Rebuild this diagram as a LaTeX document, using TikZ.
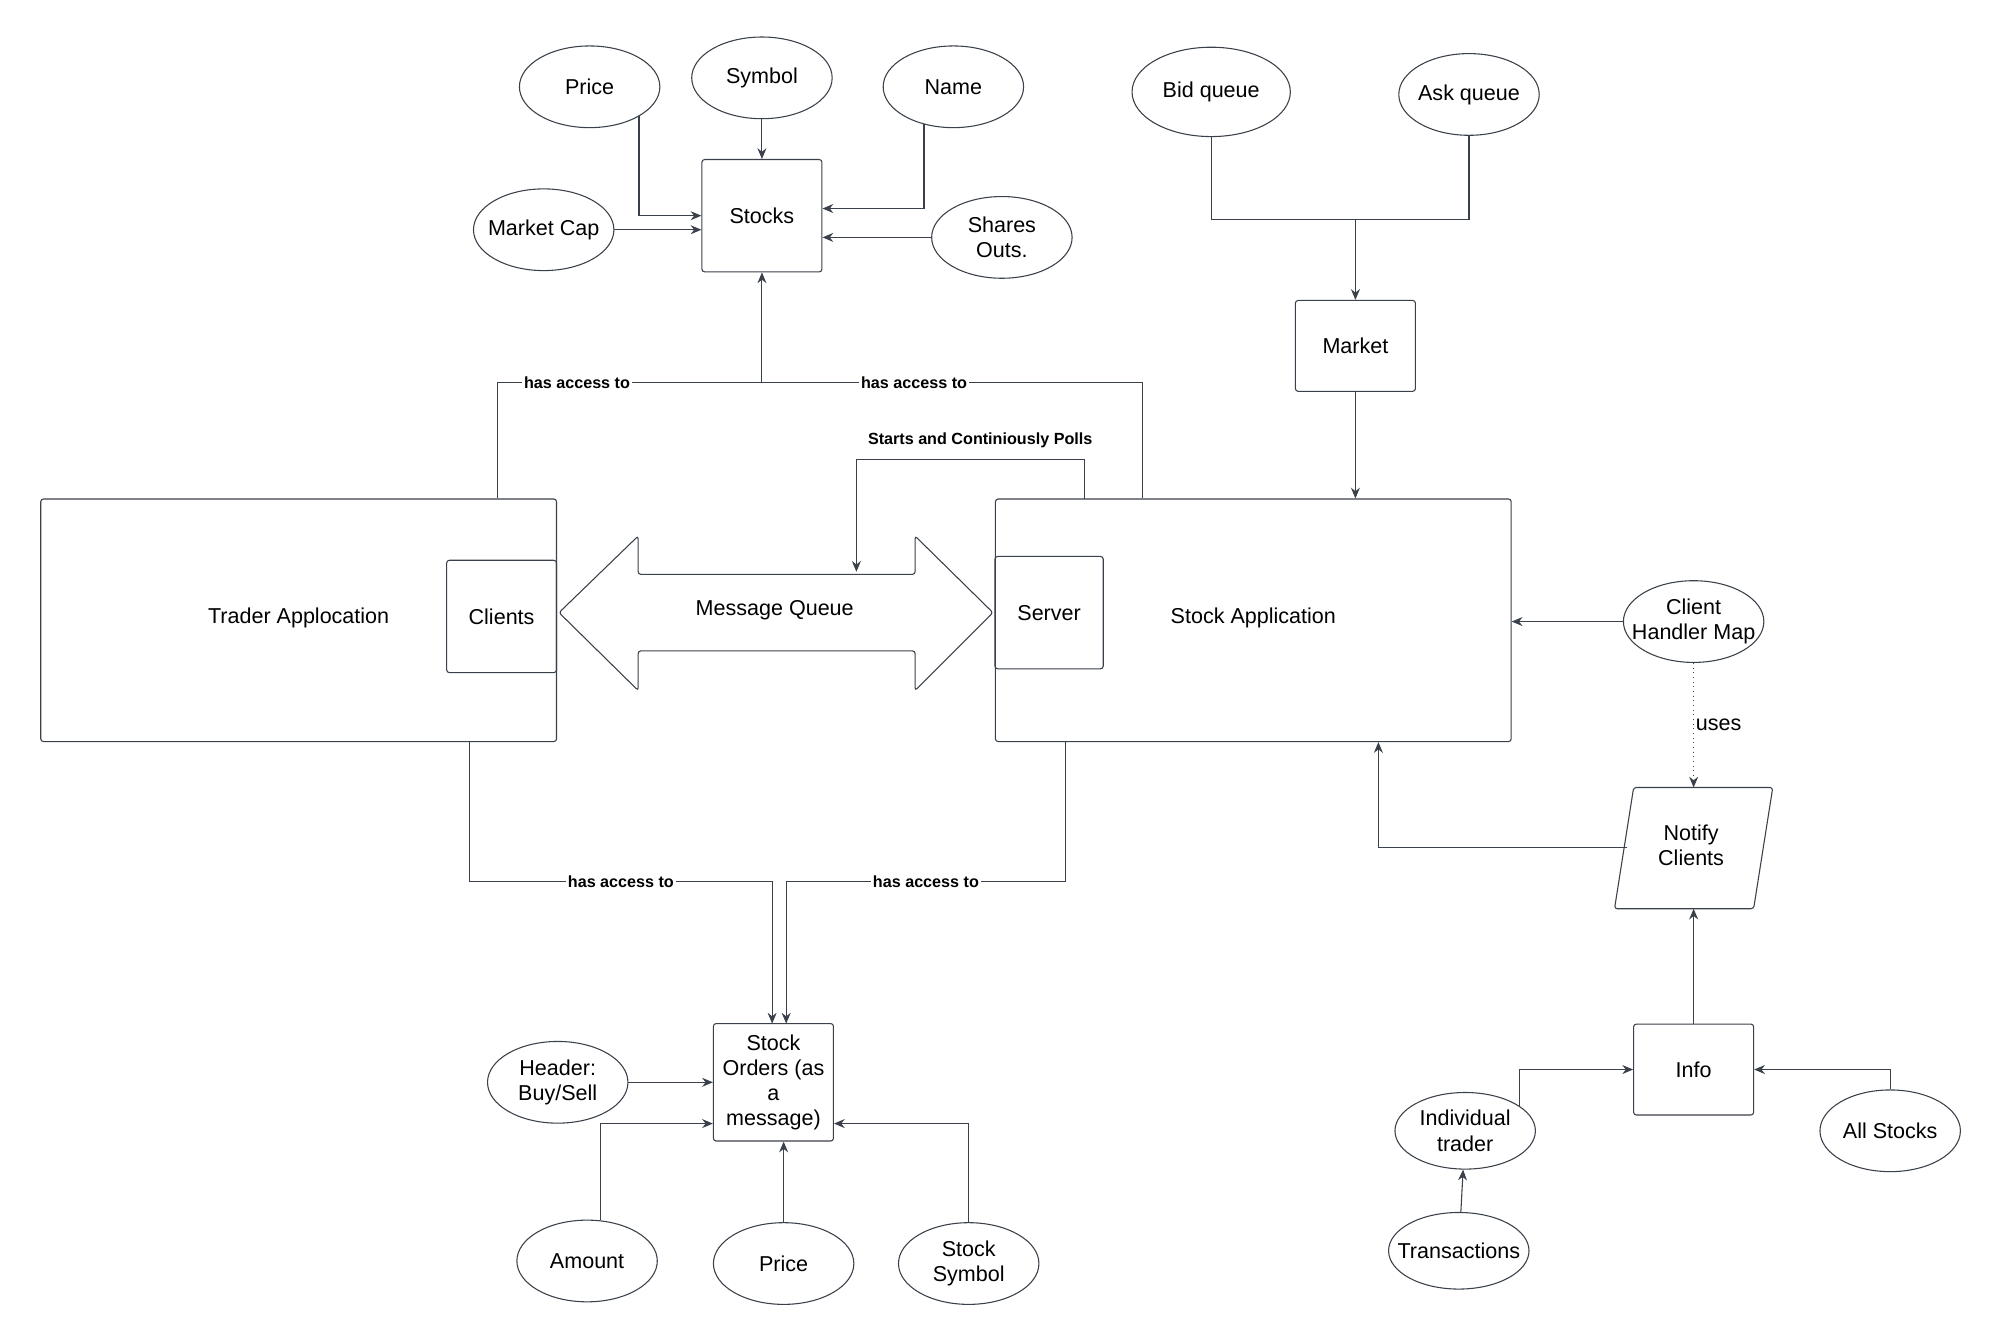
\documentclass[tikz,border=0pt]{standalone}
\usepackage{fontspec}
\setmainfont{Liberation Sans}
\usetikzlibrary{arrows.meta, positioning, shapes.geometric}
\definecolor{ln}{HTML}{3A414A}
\tikzset{
  box/.style={draw=ln, rounded corners=1.5pt, align=center, inner sep=1pt, font=\fontsize{12}{14}\selectfont},
  txt/.style={align=center, inner sep=1pt, font=\fontsize{12}{14}\selectfont},
  attr/.style={draw=ln, ellipse, minimum width=2.75cm, minimum height=1.6cm, inner sep=0pt,
    label={[txt]center:#1}},
  arr/.style={draw=ln, -{Stealth[length=6pt, width=5pt]}},
  lbl/.style={fill=white, inner sep=1pt, font=\bfseries\fontsize{9}{10}\selectfont}
}
\begin{document}
\begin{tikzpicture}[x=0.025cm, y=-0.025cm, line width=0.6pt]
\useasboundingbox (0,0) rectangle (1560,1048);
% Stocks
\node[box, minimum width=2.35cm, minimum height=2.2cm] (stocks) at (597,169) {Stocks};
\node[attr=Price] (price) at (462,68) {};
\node[attr=Symbol] (symbol) at (597,61) {};
\node[attr=Name] (name) at (747,68) {};
\node[attr=Market Cap] (mcap) at (426,180) {};
\node[attr={Shares\\Outs.}] (shares) at (785,186) {};
\draw[arr] (price.-31) |- (stocks.west);
\draw[arr] (symbol) -- (stocks);
\draw[arr] (name.-128) |- ([yshift=4pt]stocks.east);
\draw[arr] (mcap.east) -- (mcap.east -| stocks.west);
\draw[arr] (shares.west) -- (shares.west -| stocks.east);

% Market
\node[attr=Bid queue, minimum width=3.1cm, minimum height=1.75cm] (bid) at (949,72) {};
\node[attr=Ask queue] (ask) at (1151,74) {};
\node[box, minimum width=2.35cm, minimum height=1.78cm] (market) at (1062,271) {Market};
\coordinate (mq) at (1062,172);
\draw[draw=ln] (bid) |- (mq);
\draw[draw=ln] (ask) |- (mq);
\draw[arr] (mq) -- (market);

% Applications
\node[box, minimum width=10.1cm, minimum height=4.75cm] (trader) at (234,486) {};
\node[txt] at (234,484) {Trader Applocation};
\node[box, minimum width=2.15cm, minimum height=2.2cm] (clients) at (393,483) {Clients};
\node[box, minimum width=10.1cm, minimum height=4.75cm] (stockapp) at (982,486) {};
\node[txt] at (982,484) {Stock Application};
\node[box, minimum width=2.12cm, minimum height=2.2cm] (server) at (822,480) {Server};
\draw[arr] (market) -- (market |- stockapp.north);

% Message queue
\draw[draw=ln, rounded corners=1.5pt] (438,480) -- (500,420) -- (500,450) -- (717,450) -- (717,420)
  -- (778,480) -- (717,541) -- (717,510) -- (500,510) -- (500,541) -- cycle;
\node[txt] (msgq) at (607,478) {Message Queue};
\coordinate (poll) at (671,360);
\draw[arr] (850,391) |- (poll) -- (671,448);
\node[lbl, fill=none, anchor=south] at (768,353) {Starts and Continiously Polls};

% access to stocks
\coordinate (ta) at (390,300);
\coordinate (sa) at (895,300);
\draw[draw=ln] (ta |- trader.north) -- (ta) -- node[lbl, pos=0.3] {has access to} (ta -| stocks.south);
\draw[arr] (sa |- stockapp.north) -- (sa) -- node[lbl, pos=0.6] {has access to} (sa -| stocks.south) -- (stocks.south);

% Stock orders
\node[box, minimum width=2.35cm, minimum height=2.3cm] (orders) at (606,848) {Stock\\Orders (as\\a\\message)};
\node[attr={Header:\\Buy/Sell}] (header) at (437,848) {};
\node[attr=Amount] (amount) at (460,988) {};
\node[attr=Price] (oprice) at (614,990) {};
\node[attr={Stock\\Symbol}] (osym) at (759,990) {};
\coordinate (tb) at (368,691);
\coordinate (sb) at (835,691);
\draw[arr] (tb |- trader.south) -- (tb) -- node[lbl, pos=0.5] {has access to} (605,691) -- (605,802);
\draw[arr] (sb |- stockapp.south) -- (sb) -- node[lbl, pos=0.5] {has access to} (616,691) -- (616,802);
\draw[arr] (header) -- (header -| orders.west);
\draw[arr] (amount.72) |- ([yshift=-23pt]orders.west);
\draw[arr] (oprice) -- (oprice |- orders.south);
\draw[arr] (osym.north) |- ([yshift=-23pt]orders.east);

% Clients handling
\node[attr={Client\\Handler Map}] (chm) at (1327,487) {};
\draw[draw=ln, rounded corners=1.5pt] (1280,617) -- (1389,617) -- (1374,712) -- (1265,712) -- cycle;
\node[txt] (notify) at (1325,662) {Notify\\Clients};
\coordinate (nt) at (1327,617);
\coordinate (nb) at (1327,712);
\coordinate (nl) at (1275,664);
\coordinate (nc) at (1080,664);
\draw[arr] (chm.west) -- (chm.west -| stockapp.east);
\draw[arr, dotted] (chm.south) -- node[right, txt] {uses} (nt);
\draw[arr] (nl) -- (nc) -- (nc |- stockapp.south);

% Info
\node[box, minimum width=2.35cm, minimum height=1.78cm] (info) at (1327,838) {Info};
\node[attr={Individual\\trader}, minimum height=1.5cm] (indiv) at (1148,886) {};
\node[attr=Transactions, minimum height=1.5cm] (trans) at (1143,980) {};
\node[attr=All Stocks] (all) at (1481,886) {};
\draw[arr] (info) -- (nb);
\draw[arr] (indiv.25) |- (info.west);
\draw[arr] (all.north) |- (info.east);
\draw[arr] (trans) -- (indiv);
\end{tikzpicture}
\end{document}
